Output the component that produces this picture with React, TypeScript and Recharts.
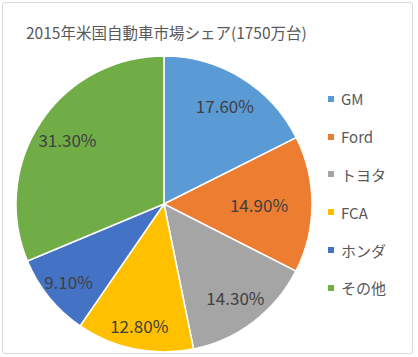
import React from 'react';
import { PieChart, Pie, Cell, Legend } from 'recharts';

const makers = ['GM', 'Ford', 'トヨタ', 'FCA', 'ホンダ', 'その他'];
const shares = [17.6, 14.9, 14.3, 12.8, 9.1, 31.3];
const colors = ['#5B9BD5', '#ED7D31', '#A5A5A5', '#FFC000', '#4472C4', '#70AD47'];

const data = makers.map((name, i) => ({ name, value: shares[i] }));

const FONT = '"Noto Sans CJK JP", "Noto Sans", sans-serif';
const RADIAN = Math.PI / 180;
// Excel "best fit" pulls the Ford label further in
const labelRadius = [116, 95, 118, 124, 123, 116];

const renderLabel = (props: any) => {
  const { cx, cy, midAngle, index, value } = props;
  const r = labelRadius[index];
  const x = cx + r * Math.cos(-midAngle * RADIAN);
  const y = cy + r * Math.sin(-midAngle * RADIAN);
  return (
    <text
      x={x}
      y={y}
      fill="#404040"
      fontSize={17}
      fontFamily={FONT}
      textAnchor="middle"
      dominantBaseline="central"
    >
      {value.toFixed(2)}%
    </text>
  );
};

const renderLegend = () => (
  <div style={{ fontFamily: FONT, fontSize: 15, color: '#595959' }}>
    {data.map((d, i) => (
      <div key={d.name} style={{ height: 37.8, display: 'flex', alignItems: 'center' }}>
        <span style={{ width: 6, height: 6, background: colors[i], marginRight: 7, display: 'inline-block' }} />
        <span>{d.name}</span>
      </div>
    ))}
  </div>
);

export default function App() {
  return (
    <div style={{ position: 'absolute', left: 0, top: 0, width: 418, height: 357, background: '#fff' }}>
      <div
        style={{
          position: 'absolute',
          left: 2,
          top: 2,
          width: 409,
          height: 350,
          border: '1px solid #D9D9D9',
          borderRadius: 3,
        }}
      />
      <div
        style={{
          position: 'absolute',
          left: 26,
          top: 21,
          fontFamily: FONT,
          fontSize: 15.5,
          color: '#595959',
          whiteSpace: 'nowrap',
        }}
      >
        2015年米国自動車市場シェア(1750万台)
      </div>
      <div style={{ position: 'absolute', left: 0, top: 0 }}>
        <PieChart width={418} height={357} margin={{ top: 0, right: 0, bottom: 0, left: 0 }}>
          <Pie
            data={data}
            dataKey="value"
            nameKey="name"
            cx={164}
            cy={204}
            outerRadius={148}
            startAngle={90}
            endAngle={-270}
            stroke="#fff"
            strokeWidth={1.5}
            label={renderLabel}
            labelLine={false}
            isAnimationActive={false}
          >
            {data.map((d, i) => (
              <Cell key={d.name} fill={colors[i]} />
            ))}
          </Pie>
          <Legend
            content={renderLegend}
            wrapperStyle={{ position: 'absolute', left: 328, top: 80, width: 90 }}
          />
        </PieChart>
      </div>
    </div>
  );
}
